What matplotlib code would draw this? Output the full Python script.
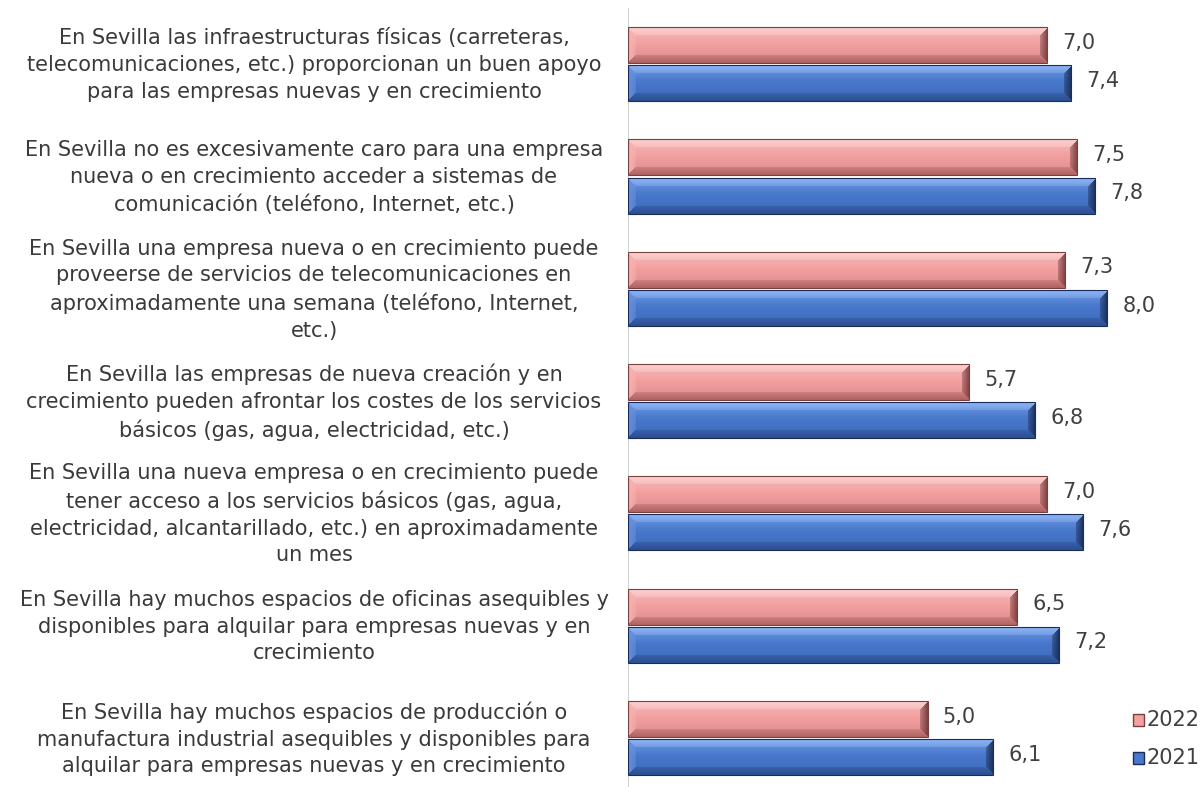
import numpy as np
import matplotlib
matplotlib.use("Agg")
import matplotlib.pyplot as plt
from matplotlib.patches import Rectangle
from matplotlib.colors import to_rgb

categories = [
    "En Sevilla las infraestructuras físicas (carreteras,\ntelecomunicaciones, etc.) proporcionan un buen apoyo\npara las empresas nuevas y en crecimiento",
    "En Sevilla no es excesivamente caro para una empresa\nnueva o en crecimiento acceder a sistemas de\ncomunicación (teléfono, Internet, etc.)",
    "En Sevilla una empresa nueva o en crecimiento puede\nproveerse de servicios de telecomunicaciones en\naproximadamente una semana (teléfono, Internet,\netc.)",
    "En Sevilla las empresas de nueva creación y en\ncrecimiento pueden afrontar los costes de los servicios\nbásicos (gas, agua, electricidad, etc.)",
    "En Sevilla una nueva empresa o en crecimiento puede\ntener acceso a los servicios básicos (gas, agua,\nelectricidad, alcantarillado, etc.) en aproximadamente\nun mes",
    "En Sevilla hay muchos espacios de oficinas asequibles y\ndisponibles para alquilar para empresas nuevas y en\ncrecimiento",
    "En Sevilla hay muchos espacios de producción o\nmanufactura industrial asequibles y disponibles para\nalquilar para empresas nuevas y en crecimiento",
]
values_2022 = [7.0, 7.5, 7.3, 5.7, 7.0, 6.5, 5.0]
values_2021 = [7.4, 7.8, 8.0, 6.8, 7.6, 7.2, 6.1]
series_names = ["2022", "2021"]

W, H, DPI = 1203, 787, 100
fig = plt.figure(figsize=(W / DPI, H / DPI), dpi=DPI)
ax_left, ax_bottom, ax_top = 628, 0, 8
ax = fig.add_axes([ax_left / W, ax_bottom / H, 1 - ax_left / W, (H - ax_top - ax_bottom) / H])

px_per_x = 59.9
px_per_y = 112.3
xlim = (0, (W - ax_left) / px_per_x)
ylim = ((H - ax_top - ax_bottom) / px_per_y - 0.5, -0.5)
ax.axis("off")
ax.axvline(0, color="#C8C8C8", lw=1.2, zorder=1)

palettes = {
    "2022": dict(base="#F3A0A0", top="#FBCFCF", left="#F6B2B2", bottom="#B06262", right="#7A3F3F"),
    "2021": dict(base="#4878CC", top="#8DB3F3", left="#6892DE", bottom="#2B4E90", right="#1A2D58"),
}

bar_h = 0.32
offset = 0.17


def bevel_image(length_px, height_px, pal, bevel=8):
    nx, ny = max(int(round(length_px)), 2), max(int(round(height_px)), 2)
    xs = np.arange(nx) + 0.5
    ys = np.arange(ny) + 0.5
    X, Y = np.meshgrid(xs, ys)
    base = np.array(to_rgb(pal["base"]))
    light = np.array(to_rgb(pal["top"]))
    dark = np.array(to_rgb(pal["bottom"]))
    t = (Y / ny)[..., None]
    # interior: light sheen near the top, darker toward the bottom
    interior = np.where(t < 0.45, base + (light - base) * (0.45 - t) / 0.45 * 0.6,
                        base + (dark - base) * (t - 0.45) / 0.55 * 0.35)
    img = interior.copy()
    d = np.stack([Y, ny - Y, X, nx - X], axis=0)
    which = np.argmin(d, axis=0)
    dmin = np.min(d, axis=0)
    edge = dmin < bevel
    cols = [light, dark, np.array(to_rgb(pal["left"])), np.array(to_rgb(pal["right"]))]
    for k, c in enumerate(cols):
        m = edge & (which == k)
        # blend from edge colour toward the interior across the bevel
        w = (1 - dmin / bevel)[..., None] * 0.6 + 0.4
        blended = c * w + interior * (1 - w)
        img[m] = blended[m]
    return np.clip(img, 0, 1)


for i in range(len(categories)):
    for name, vals, off in (("2022", values_2022, -offset), ("2021", values_2021, offset)):
        v = vals[i]
        y0 = i + off - bar_h / 2
        pal = palettes[name]
        img = bevel_image(v * px_per_x, bar_h * px_per_y, pal)
        ax.imshow(img, extent=(0, v, y0 + bar_h, y0), aspect="auto",
                  interpolation="bilinear", zorder=2)
        ax.add_patch(Rectangle((0, y0), v, bar_h, fill=False, ec=pal["right"], lw=0.8, zorder=3))
        ax.text(v + 0.25, i + off - 0.02, f"{v:.1f}".replace(".", ","), va="center", ha="left",
                fontsize=15, color="#404040", zorder=4)

ax.set_xlim(*xlim)
ax.set_ylim(*ylim)

# category labels on the left, centred on each group
for i, lab in enumerate(categories):
    y_px = ax_top + (i + 0.5) * px_per_y + 1
    fig.text(314 / W, 1 - y_px / H, lab, ha="center", va="center", fontsize=15,
             color="#3A3A3A", linespacing=1.42, multialignment="center")

# legend
for k, name in enumerate(series_names):
    y_px = 720 + k * 38
    pal = palettes[name]
    fig.patches.append(Rectangle((1133 / W, 1 - (y_px + 6) / H), 11 / W, 12 / H,
                                 transform=fig.transFigure, fc=pal["base"], ec=pal["right"], lw=1))
    fig.text(1146 / W, 1 - y_px / H, name, ha="left", va="center", fontsize=15, color="#404040")

fig.savefig("out.png", dpi=DPI)
